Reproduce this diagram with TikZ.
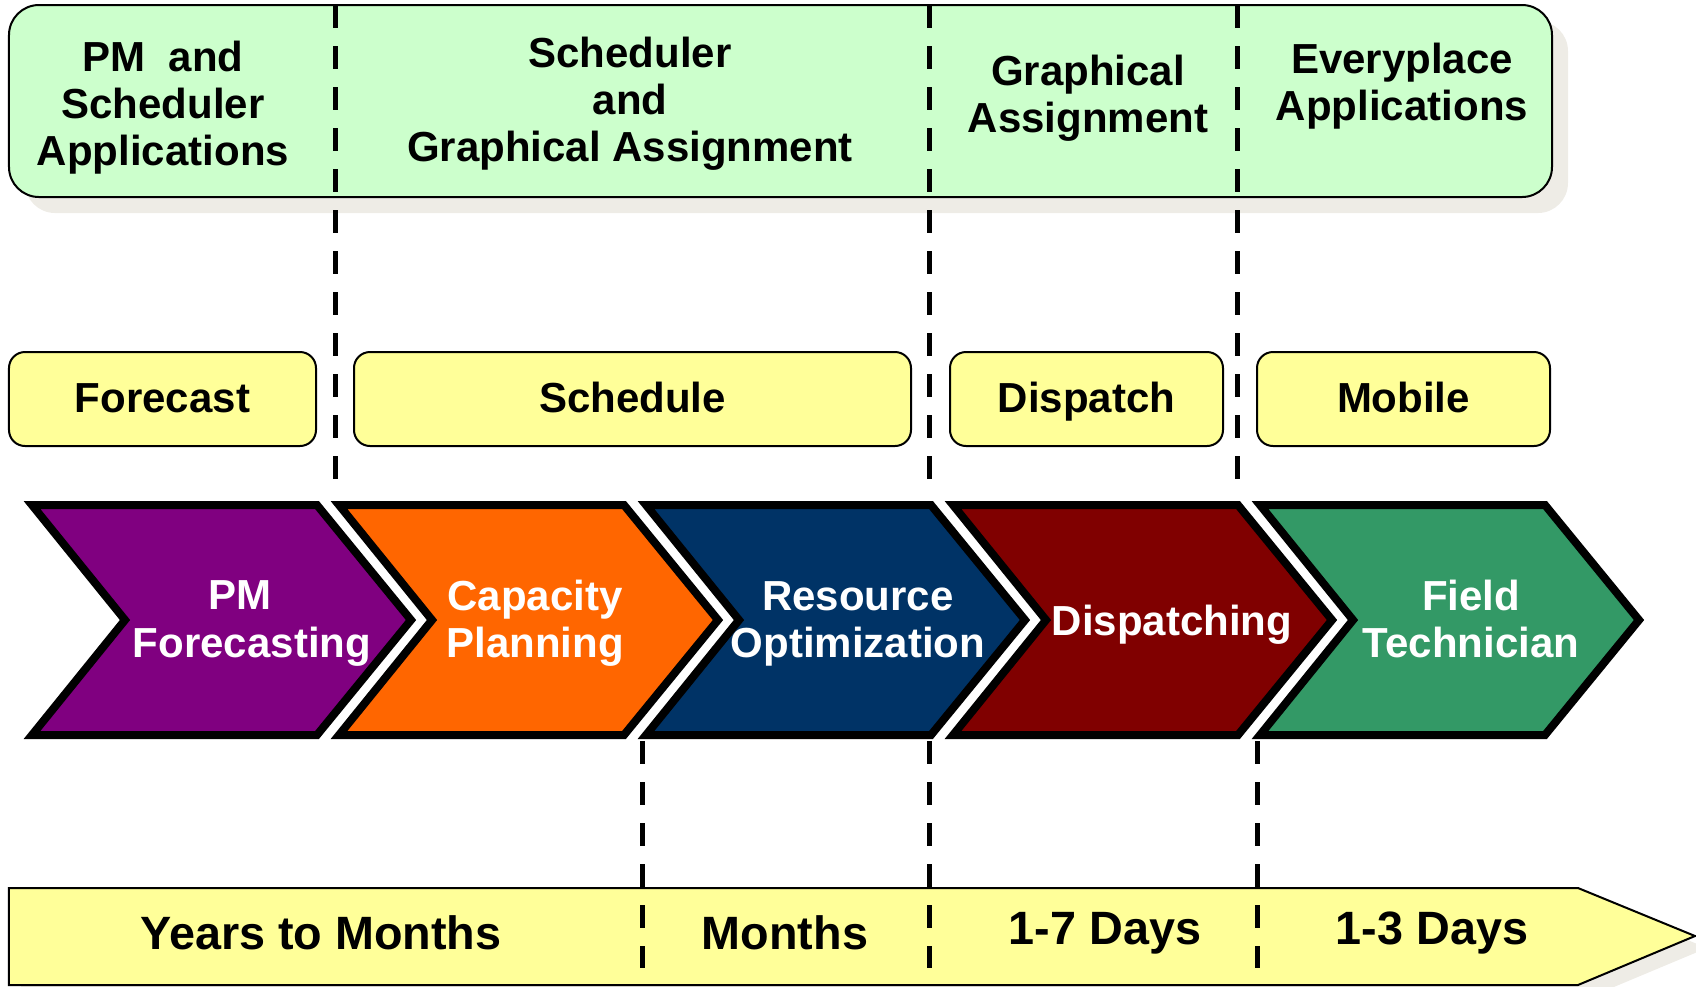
\documentclass[tikz,border=0pt]{standalone}
\usepackage{fontspec}
\setmainfont{Liberation Sans}
\definecolor{appgreen}{RGB}{204, 255, 204}
\definecolor{labelyellow}{RGB}{255, 255, 153}
\definecolor{shadowgrey}{RGB}{238, 236, 230}
\definecolor{pmpurple}{RGB}{128, 0, 128}
\definecolor{caporange}{RGB}{255, 102, 0}
\definecolor{resnavy}{RGB}{0, 51, 102}
\definecolor{dispred}{RGB}{128, 0, 0}
\definecolor{fieldgreen}{RGB}{51, 153, 102}
\usetikzlibrary{calc}

\begin{document}
\begin{tikzpicture}[
  headtext/.style={align=center, inner sep=0pt, font=\bfseries\fontsize{11.95}{13.4}\selectfont},
  labelbox/.style={draw, line width=0.02cm, rounded corners=0.16cm, fill=labelyellow,
                   minimum height=0.94cm, inner sep=0pt, text height=0.36cm, text depth=0.09cm,
                   font=\bfseries\fontsize{11.95}{13.4}\selectfont},
  chevron/.style={draw=black, line width=0.08cm, line join=miter},
  chevtext/.style={headtext, text=white},
  daytext/.style={inner sep=0pt, font=\bfseries\fontsize{13.3}{15}\selectfont},
  divider/.style={line width=0.05cm, dash pattern=on 0.23cm off 0.18cm},
]
\useasboundingbox (0,0) rectangle (16.96,-9.86);

% Application band
\fill[shadowgrey, rounded corners=0.3cm] (0.25,-0.21) rectangle (15.68,-2.13);
\draw[fill=appgreen, line width=0.02cm, rounded corners=0.3cm] (0.09,-0.05) rectangle (15.52,-1.97);

\node[headtext] (pmapps) at (1.63,-1.075) {PM~ and\\Scheduler\\Applications};
\node[headtext] (schedapps) at (6.30,-1.035) {Scheduler\\and\\Graphical Assignment};
\node[headtext] (graphapps) at (10.88,-0.98) {Graphical\\Assignment};
\node[headtext] (everyapps) at (14.02,-0.865) {Everyplace\\Applications};

% Upper dividers
\foreach \x in {3.35, 9.29, 12.37}
  \draw[divider] (\x,-0.05) -- (\x,-4.92);

% Function labels
\node[labelbox, minimum width=3.07cm] (forecast) at (1.625,-3.99) {Forecast};
\node[labelbox, minimum width=5.57cm] (schedule) at (6.325,-3.99) {Schedule};
\node[labelbox, minimum width=2.73cm] (dispatch) at (10.865,-3.99) {Dispatch};
\node[labelbox, minimum width=2.93cm] (mobile) at (14.035,-3.99) {Mobile};

% Process chevrons
\foreach \i/\col in {0/pmpurple, 1/caporange, 2/resnavy, 3/dispred, 4/fieldgreen} {
  \pgfmathsetmacro\L{0.24+3.07*\i}
  \draw[chevron, fill=\col] ({\L+0.08},-5.05) -- ({\L+2.93},-5.05) -- ({\L+3.87},-6.20)
       -- ({\L+2.93},-7.35) -- ({\L+0.08},-7.35) -- ({\L+1.01},-6.20) -- cycle;
}

\node[chevtext] (pmfc) at (2.52,-6.235) {PM\kern0.24cm\\Forecasting};
\node[chevtext] (capplan) at (5.35,-6.23) {Capacity\\Planning};
\node[chevtext] (resopt) at (8.58,-6.235) {Resource\\Optimization};
\node[chevtext] (dispatching) at (11.72,-6.245) {Dispatching};
\node[chevtext] (fieldtech) at (14.71,-6.19) {Field\\Technician};

% Time scale
\fill[shadowgrey] (0.21,-9.00) -- (15.90,-9.00) -- (17.07,-9.48) -- (15.90,-9.97) -- (0.21,-9.97) -- cycle;
\draw[fill=labelyellow, line width=0.02cm] (0.09,-8.88) -- (15.78,-8.88) -- (16.95,-9.36)
     -- (15.78,-9.85) -- (0.09,-9.85) -- cycle;

\node[daytext] (yearsmonths) at (3.21,-9.33) {Years to Months};
\node[daytext] (months) at (7.85,-9.33) {Months};
\node[daytext] (days17) at (11.05,-9.33) {1-7 Days};
\node[daytext] (days13) at (14.32,-9.33) {1-3 Days};

% Lower dividers
\foreach \x in {6.42, 9.29, 12.57}
  \draw[divider] (\x,-7.41) -- (\x,-9.68);
\end{tikzpicture}
\end{document}
